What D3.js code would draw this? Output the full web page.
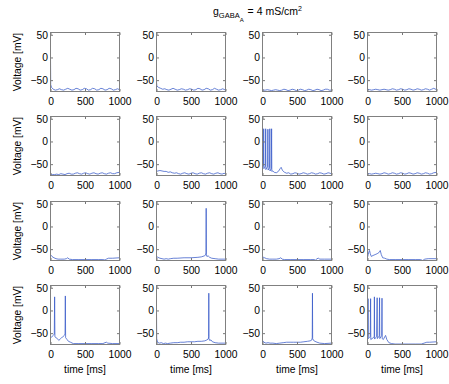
<!DOCTYPE html>
<html lang="en">
<head>
    <meta charset="utf-8">
    <script src="https://d3js.org/d3.v7.min.js"></script>
    <style>
        body { margin: 0; background: #fff; }
        text { font-family: "Liberation Sans", Arial, sans-serif; fill: #000; }
        .tick text { font-size: 10.3px; }
        .tick line { stroke: #777; }
        .trace { fill: none; stroke: #3558c8; stroke-width: 0.75; stroke-linejoin: round; }
        .box { fill: none; stroke: #808080; stroke-width: 1; }
    </style>
</head>
<body>
<svg width="449" height="384"></svg>

<script>

// tick labels
var timeTicks = [0, 500, 1000];
var voltTicks = [-50, 0, 50];

// voltage traces, [time ms, voltage mV] (row, column)
var trace_r1c1 = [[0,0],[3,-60],[15,-66],[40,-70],[70,-72],[100,-71],[130,-69],[160,-71],[190,-72],[220,-70],[250,-68],[280,-70],[310,-72],[340,-71],[370,-68],[400,-69],[430,-72],[460,-71],[490,-68],[520,-69],[550,-72],[580,-71],[610,-68],[640,-69],[670,-72],[700,-71],[730,-68],[760,-69],[790,-72],[820,-71],[850,-68],[880,-69],[910,-72],[940,-71],[970,-69],[1000,-71]];
var trace_r1c2 = [[0,-54],[5,-63],[30,-66],[60,-68],[90,-70],[120,-69],[150,-71],[180,-72],[210,-70],[240,-68],[270,-70],[300,-72],[330,-71],[360,-69],[390,-70],[420,-72],[450,-71],[480,-69],[510,-70],[540,-72],[570,-71],[600,-68],[630,-69],[660,-72],[690,-71],[720,-68],[750,-69],[780,-72],[810,-71],[840,-68],[870,-70],[900,-72],[930,-71],[960,-69],[1000,-72]];
var trace_r1c3 = [[0,-72],[40,-72],[70,-71],[100,-72],[130,-73],[160,-72],[190,-71],[220,-72],[250,-73],[280,-72],[310,-70],[340,-71],[370,-73],[400,-72],[430,-70],[460,-71],[490,-73],[520,-72],[550,-70],[580,-71],[610,-73],[640,-72],[670,-70],[700,-71],[730,-73],[760,-72],[790,-70],[820,-71],[850,-73],[880,-72],[910,-70],[940,-70],[970,-72],[1000,-72]];
var trace_r1c4 = [[0,-70],[30,-71],[60,-72],[90,-71],[120,-70],[150,-71],[180,-72],[210,-71],[240,-70],[270,-71],[300,-72],[330,-71],[360,-69],[390,-70],[420,-72],[450,-71],[480,-69],[510,-70],[540,-72],[570,-71],[600,-69],[630,-70],[660,-72],[690,-71],[720,-69],[750,-70],[780,-72],[810,-71],[840,-69],[870,-70],[900,-72],[930,-70],[960,-68],[1000,-71]];

var trace_r2c1 = [[0,-72],[30,-73],[60,-73],[90,-72],[120,-73],[150,-71],[180,-72],[210,-73],[240,-71],[270,-70],[300,-72],[330,-72],[360,-70],[390,-69],[420,-71],[450,-72],[480,-70],[510,-69],[540,-71],[570,-72],[600,-70],[630,-69],[660,-71],[690,-72],[720,-70],[750,-69],[780,-71],[810,-72],[840,-70],[870,-69],[900,-71],[930,-71],[960,-69],[1000,-68]];
var trace_r2c2 = [[0,-66],[20,-65],[50,-64],[80,-65],[110,-66],[140,-66],[170,-68],[200,-67],[230,-69],[260,-70],[290,-69],[320,-71],[350,-72],[380,-70],[410,-69],[440,-71],[470,-72],[500,-70],[530,-69],[560,-71],[590,-72],[620,-70],[650,-69],[680,-71],[710,-72],[740,-70],[770,-69],[800,-71],[830,-72],[860,-70],[890,-69],[920,-71],[950,-72],[980,-70],[1000,-72]];
var trace_r2c3 = [[0,-60],[8,-55],[14,-52],[17,28],[20,-60],[32,-57],[42,-54],[46,28],[49,-62],[62,-58],[74,-56],[78,27],[81,-63],[94,-60],[102,-57],[106,28],[109,-65],[120,-62],[128,-60],[132,28],[135,-66],[150,-65],[170,-68],[200,-69],[230,-66],[255,-60],[270,-57],[290,-64],[320,-68],[350,-70],[380,-69],[410,-72],[440,-71],[470,-69],[500,-70],[530,-72],[560,-71],[590,-69],[620,-70],[650,-72],[680,-71],[710,-69],[740,-70],[770,-72],[800,-71],[830,-69],[860,-70],[890,-72],[920,-71],[950,-69],[980,-70],[1000,-72]];
var trace_r2c4 = [[0,-71],[30,-71],[60,-72],[90,-71],[120,-70],[150,-71],[180,-72],[210,-71],[240,-69],[270,-70],[300,-72],[330,-71],[360,-69],[390,-70],[420,-72],[450,-71],[480,-69],[510,-70],[540,-72],[570,-71],[600,-69],[630,-70],[660,-72],[690,-71],[720,-69],[750,-70],[780,-72],[810,-71],[840,-69],[870,-70],[900,-72],[930,-71],[960,-69],[1000,-68]];

var trace_r3c1 = [[0,-62],[20,-66],[50,-69],[80,-71],[110,-72],[150,-72],[200,-72],[230,-71],[250,-69],[270,-72],[320,-73],[400,-73],[500,-73],[600,-73],[700,-73],[760,-73],[790,-74],[810,-72],[840,-70],[900,-70],[1000,-69]];
var trace_r3c2 = [[0,-66],[20,-68],[50,-70],[80,-71],[110,-72],[140,-71],[170,-72],[200,-71],[250,-70],[300,-70],[400,-69],[500,-69],[600,-68],[650,-67],[690,-65],[712,-63],[717,-58],[720,40],[723,-62],[730,-66],[750,-65],[770,-68],[800,-70],[850,-71],[900,-72],[1000,-72]];
var trace_r3c3 = [[0,-67],[30,-69],[60,-71],[100,-72],[150,-72],[200,-72],[240,-71],[265,-69],[285,-72],[320,-73],[400,-73],[500,-73],[600,-73],[700,-73],[750,-73],[770,-74],[790,-71],[810,-70],[830,-72],[900,-72],[1000,-72]];
var trace_r3c4 = [[0,-68],[10,-62],[20,-56],[30,-53],[40,-60],[55,-66],[80,-64],[110,-62],[140,-60],[170,-57],[185,-53],[200,-62],[220,-69],[250,-70],[280,-72],[320,-73],[400,-73],[500,-73],[600,-73],[700,-73],[770,-73],[800,-75],[830,-72],[880,-71],[1000,-71]];

var trace_r4c1 = [[0,-60],[20,-58],[40,-55],[55,-52],[60,30],[64,-58],[80,-60],[100,-62],[120,-66],[140,-63],[160,-60],[180,-58],[200,-55],[211,-52],[215,32],[219,-60],[240,-64],[260,-68],[290,-70],[330,-73],[400,-73],[500,-73],[600,-73],[700,-73],[760,-73],[790,-71],[810,-70],[830,-72],[900,-73],[1000,-73]];
var trace_r4c2 = [[0,0],[3,-62],[15,-70],[40,-72],[70,-71],[100,-73],[130,-72],[160,-73],[200,-72],[250,-71],[300,-71],[350,-70],[400,-70],[450,-69],[500,-69],[550,-69],[600,-68],[650,-68],[700,-67],[730,-65],[750,-63],[755,-58],[758,38],[761,-62],[770,-66],[790,-65],[810,-69],[850,-71],[900,-72],[1000,-72]];
var trace_r4c3 = [[0,-66],[20,-70],[50,-72],[80,-71],[110,-72],[150,-72],[200,-73],[250,-72],[300,-71],[350,-70],[400,-70],[450,-70],[500,-70],[550,-70],[600,-69],[650,-68],[690,-67],[715,-65],[721,-60],[724,38],[727,-62],[740,-66],[760,-68],[790,-70],[830,-72],[900,-73],[1000,-72]];
var trace_r4c4 = [[0,-60],[6,-56],[8,26],[11,-62],[25,-60],[40,-57],[45,26],[48,-64],[65,-62],[85,-60],[97,-57],[100,30],[103,-63],[118,-60],[132,-57],[140,28],[143,-62],[158,-59],[170,-56],[175,28],[178,-62],[195,-58],[206,-55],[210,27],[213,-62],[230,-64],[250,-58],[262,-55],[280,-64],[310,-71],[350,-73],[400,-74],[500,-74],[600,-74],[700,-74],[780,-74],[820,-72],[860,-70],[900,-70],[1000,-69]];

var traces = [
    [trace_r1c1, trace_r1c2, trace_r1c3, trace_r1c4],
    [trace_r2c1, trace_r2c2, trace_r2c3, trace_r2c4],
    [trace_r3c1, trace_r3c2, trace_r3c3, trace_r3c4],
    [trace_r4c1, trace_r4c2, trace_r4c3, trace_r4c4]
];

// subplot layout
var colX = [50.5, 156.5, 262.5, 367.5],
    rowY = [32.5, 116.5, 201.5, 285.5],
    panelW = 69,
    panelH = 59;

var svg = d3.select("svg");
svg.append("rect").attr("width", 449).attr("height", 384).attr("fill", "#fff");

var x = d3.scaleLinear().domain([0, 1000]).range([0, panelW]);
var y = d3.scaleLinear().domain([-75, 55]).range([panelH, 0]);

var line = d3.line()
    .x(function(d) { return x(d[0]); })
    .y(function(d) { return y(d[1]); });

var defs = svg.append("defs");
defs.append("clipPath").attr("id", "clip")
    .append("rect").attr("width", panelW).attr("height", panelH);

traces.forEach(function(row, r) {
    row.forEach(function(data, c) {
        var g = svg.append("g")
            .attr("transform", "translate(" + colX[c] + "," + rowY[r] + ")");

        // trace
        g.append("path")
            .datum(data)
            .attr("class", "trace")
            .attr("clip-path", "url(#clip)")
            .attr("d", line);

        // axes, MATLAB style: inward ticks on all four sides
        g.append("g")
            .attr("transform", "translate(0," + panelH + ")")
            .call(d3.axisBottom(x).tickValues(timeTicks).tickSizeInner(-2.5).tickSizeOuter(0).tickPadding(6)
                .tickFormat(d3.format("d")));
        g.append("g")
            .call(d3.axisLeft(y).tickValues(voltTicks).tickSizeInner(-2.5).tickSizeOuter(0).tickPadding(2.5)
                .tickFormat(function(d) { return d < 0 ? "\u2212" + Math.abs(d) : d; }));
        g.append("g")
            .call(d3.axisTop(x).tickValues(timeTicks).tickSizeInner(-2.5).tickSizeOuter(0).tickFormat(""));
        g.append("g")
            .attr("transform", "translate(" + panelW + ",0)")
            .call(d3.axisRight(y).tickValues(voltTicks).tickSizeInner(-2.5).tickSizeOuter(0).tickFormat(""));

        g.selectAll(".domain").remove();

        g.append("rect")
            .attr("class", "box")
            .attr("width", panelW)
            .attr("height", panelH);

        if (c === 0) {
            svg.append("text")
                .attr("transform", "translate(20.5," + (rowY[r] + panelH / 2) + ") rotate(-90)")
                .attr("text-anchor", "middle")
                .style("font-size", "10.3px")
                .text("Voltage [mV]");
        }
        if (r === 3) {
            svg.append("text")
                .attr("x", colX[c] + panelW / 2)
                .attr("y", 373)
                .attr("text-anchor", "middle")
                .style("font-size", "10.3px")
                .text("time [ms]");
        }
    });
});

// title: g_{GABA_A} = 4 mS/cm^2
var title = svg.append("text")
    .attr("x", 213)
    .attr("y", 15)
    .style("font-size", "10.5px");
title.append("tspan").text("g");
title.append("tspan").attr("dy", 3).style("font-size", "7.5px").text("GABA");
title.append("tspan").attr("dy", 3.5).style("font-size", "6px").text("A");
title.append("tspan").attr("dy", -6.5).attr("dx", 1).style("font-size", "10.5px").text(" = 4 mS/cm");
title.append("tspan").attr("dy", -4.5).style("font-size", "7px").text("2");

</script>
</body>
</html>
